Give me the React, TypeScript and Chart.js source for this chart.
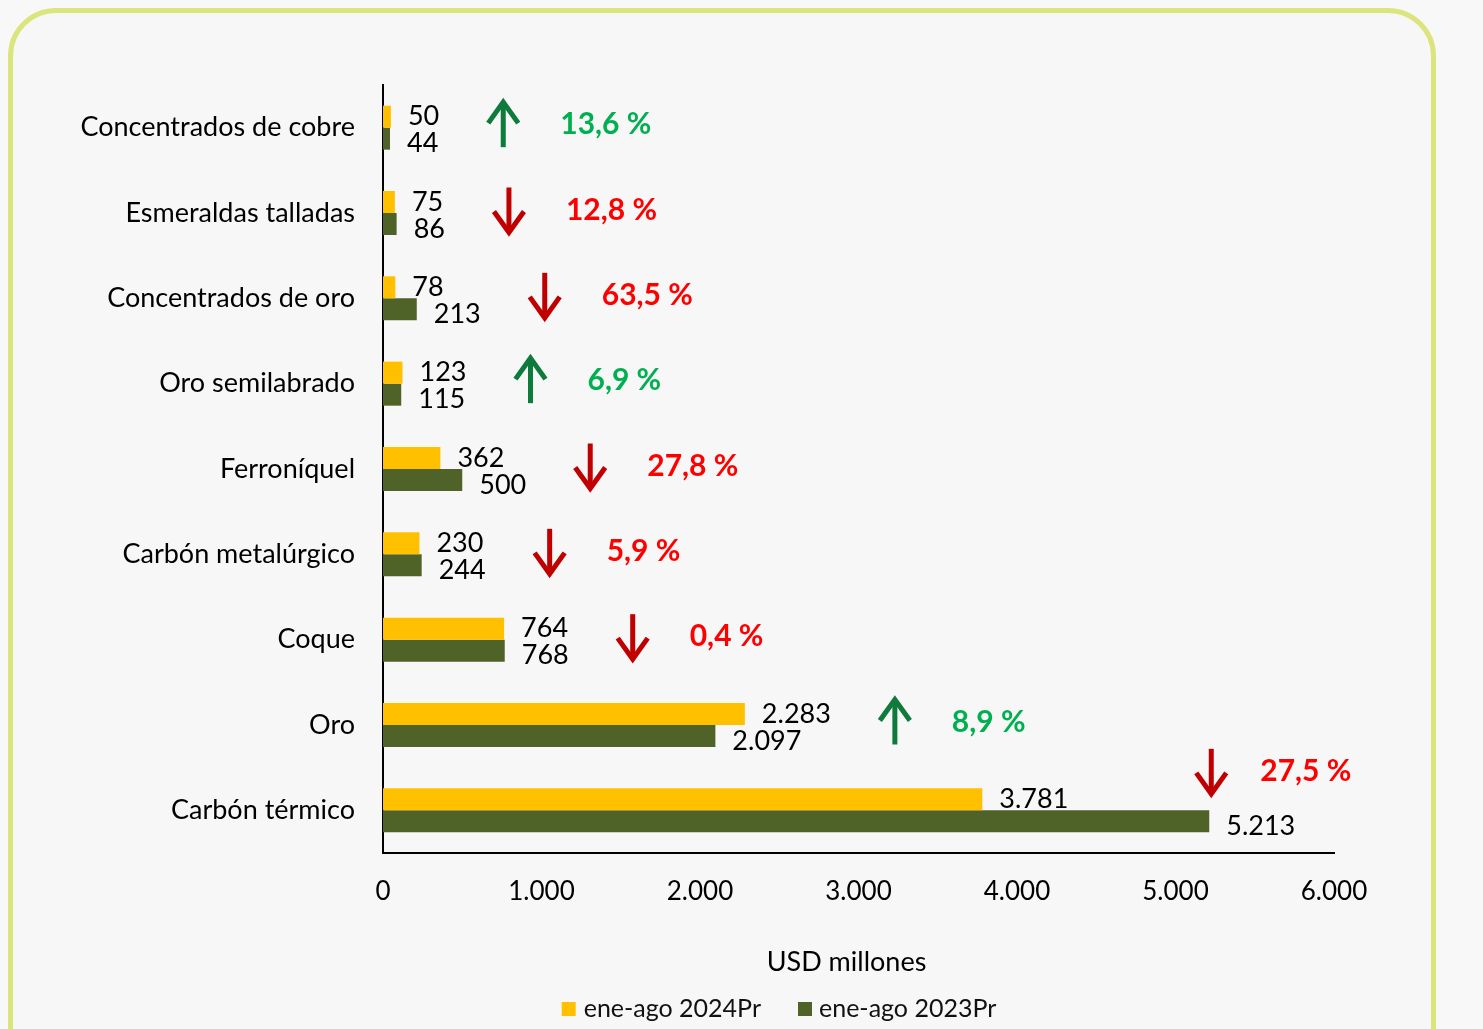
import React, { useEffect, useRef } from "react";
import { Chart, registerables } from "chart.js";

Chart.register(...registerables);

const categories = [
  "Concentrados de cobre",
  "Esmeraldas talladas",
  "Concentrados de oro",
  "Oro semilabrado",
  "Ferroníquel",
  "Carbón metalúrgico",
  "Coque",
  "Oro",
  "Carbón térmico",
];
const values2024 = [50, 75, 78, 123, 362, 230, 764, 2283, 3781];
const values2023 = [44, 86, 213, 115, 500, 244, 768, 2097, 5213];
const changePct = [13.6, -12.8, -63.5, 6.9, -27.8, -5.9, -0.4, 8.9, -27.5];
const seriesNames = ["ene-ago 2024Pr", "ene-ago 2023Pr"];
const xMin = 0;
const xMax = 6000;
const xStep = 1000;
const axisTitle = "USD millones";

const FONT = "Lato";
const COLORS = ["#ffc000", "#4f6228"];

function fmt(n: number): string {
  const s = Math.round(n).toString();
  return s.replace(/\B(?=(\d{3})+(?!\d))/g, ".");
}
function fmtPct(p: number): string {
  return Math.abs(p).toFixed(1).replace(".", ",") + " %";
}

function drawArrow(ctx: CanvasRenderingContext2D, x: number, cy: number, up: boolean, color: string) {
  const half = 22.5;
  const hw = 15;
  const hh = 21;
  ctx.save();
  ctx.strokeStyle = color;
  ctx.lineWidth = 5;
  ctx.lineCap = "butt";
  ctx.lineJoin = "miter";
  const tipY = up ? cy - half : cy + half;
  const tailY = up ? cy + half : cy - half;
  const armY = up ? tipY + hh : tipY - hh;
  ctx.beginPath();
  ctx.moveTo(x, tailY);
  ctx.lineTo(x, up ? tipY + 2 : tipY - 2);
  ctx.stroke();
  ctx.beginPath();
  ctx.moveTo(x - hw, armY);
  ctx.lineTo(x, tipY);
  ctx.lineTo(x + hw, armY);
  ctx.stroke();
  ctx.restore();
}

const overlayPlugin = {
  id: "overlay",
  afterDatasetsDraw(chart: any) {
    const ctx: CanvasRenderingContext2D = chart.ctx;
    const { chartArea } = chart;
    const yScale = chart.scales.y;
    const metas = [chart.getDatasetMeta(0), chart.getDatasetMeta(1)];
    ctx.save();
    ctx.font = `27px ${FONT}`;
    ctx.fillStyle = "#000";
    ctx.textBaseline = "middle";
    ctx.textAlign = "left";
    const labelEnds: number[] = categories.map(() => 0);
    const barEnds: number[] = categories.map(() => 0);
    metas.forEach((meta: any, di: number) => {
      const data = chart.data.datasets[di].data as number[];
      meta.data.forEach((el: any, i: number) => {
        const txt = fmt(data[i]);
        const lx = el.x + 17;
        const ly = el.y + (di === 1 ? 5 : 0);
        ctx.fillText(txt, lx, ly);
        labelEnds[i] = Math.max(labelEnds[i], lx + ctx.measureText(txt).width);
        barEnds[i] = Math.max(barEnds[i], el.x);
      });
    });
    ctx.font = `bold 30px ${FONT}`;
    categories.forEach((_, i) => {
      const p = changePct[i];
      const up = p >= 0;
      const txt = fmtPct(p);
      const tw = ctx.measureText(txt).width;
      let cy = yScale.getPixelForValue(i) - 3;
      let ax = labelEnds[i] + 64;
      let tx = ax + 57;
      if (tx + tw > chartArea.right) {
        ax = barEnds[i] + 2;
        cy = yScale.getPixelForValue(i) - 39;
        tx = ax + 49;
      }
      drawArrow(ctx, ax, cy, up, up ? "#0e7a3b" : "#c00000");
      ctx.fillStyle = up ? "#00b050" : "#ff0000";
      ctx.textBaseline = "middle";
      ctx.fillText(txt, tx, cy);
    });
    ctx.restore();
  },
  afterDraw(chart: any) {
    const ctx: CanvasRenderingContext2D = chart.ctx;
    const { chartArea } = chart;
    ctx.save();
    ctx.font = `27px ${FONT}`;
    ctx.fillStyle = "#000";
    ctx.textAlign = "center";
    ctx.textBaseline = "middle";
    ctx.fillText(axisTitle, (chartArea.left + chartArea.right) / 2 - 12, chartArea.bottom + 109);
    ctx.font = `25px ${FONT}`;
    const box = 14;
    const w0 = ctx.measureText(seriesNames[0]).width;
    const w1 = ctx.measureText(seriesNames[1]).width;
    const total = box + 8 + w0 + 37 + box + 7 + w1;
    let x = 766 - total / 2;
    const y = chartArea.bottom + 156;
    ctx.textAlign = "left";
    ctx.fillStyle = COLORS[0];
    ctx.fillRect(x, y - box / 2, box, box);
    x += box + 8;
    ctx.fillStyle = "#111";
    ctx.fillText(seriesNames[0], x, y);
    x += w0 + 37;
    ctx.fillStyle = COLORS[1];
    ctx.fillRect(x, y - box / 2, box, box);
    x += box + 7;
    ctx.fillStyle = "#111";
    ctx.fillText(seriesNames[1], x, y);
    ctx.restore();
  },
};

export default function App() {
  const ref = useRef<HTMLCanvasElement>(null);
  useEffect(() => {
    document.body.style.background = "#f8f8f8";
    document.body.style.overflow = "hidden";
    document.documentElement.style.overflow = "hidden";
    const chart = new Chart(ref.current!, {
      type: "bar",
      data: {
        labels: categories,
        datasets: [
          { label: seriesNames[0], data: values2024, backgroundColor: COLORS[0] },
          { label: seriesNames[1], data: values2023, backgroundColor: COLORS[1] },
        ],
      },
      options: {
        indexAxis: "y",
        responsive: false,
        animation: false,
        maintainAspectRatio: false,
        layout: { padding: { top: 72, right: 97, bottom: 53, left: 0 } },
        datasets: { bar: { categoryPercentage: 0.516, barPercentage: 1 } },
        plugins: { legend: { display: false }, tooltip: { enabled: false } },
        scales: {
          x: {
            min: xMin,
            max: xMax,
            grid: { display: false, drawTicks: false, tickLength: 0 },
            border: { display: true, color: "#000", width: 2 },
            ticks: {
              stepSize: xStep,
              padding: 23,
              color: "#000",
              font: { family: FONT, size: 26 },
              callback: (v: any) => fmt(Number(v)),
            },
            afterFit: (s: any) => {
              s.height = 123;
            },
          },
          y: {
            grid: { display: false, drawTicks: false, tickLength: 0 },
            border: { display: true, color: "#000", width: 2 },
            ticks: {
              padding: 28,
              color: "#000",
              font: { family: FONT, size: 27 },
            },
            afterFit: (s: any) => {
              s.width = 370;
            },
          },
        },
      },
      plugins: [overlayPlugin],
    } as any);
    return () => chart.destroy();
  }, []);
  return (
    <div
      style={{
        position: "absolute",
        left: 8,
        top: 8,
        width: 1428,
        height: 1070,
        border: "5px solid #dbe57c",
        borderRadius: 48,
        background: "#f7f7f7",
        boxSizing: "border-box",
      }}
    >
      <canvas
        ref={ref}
        width={1418}
        height={1016}
        style={{ position: "absolute", left: 0, top: 0, width: 1418, height: 1016 }}
      />
    </div>
  );
}
